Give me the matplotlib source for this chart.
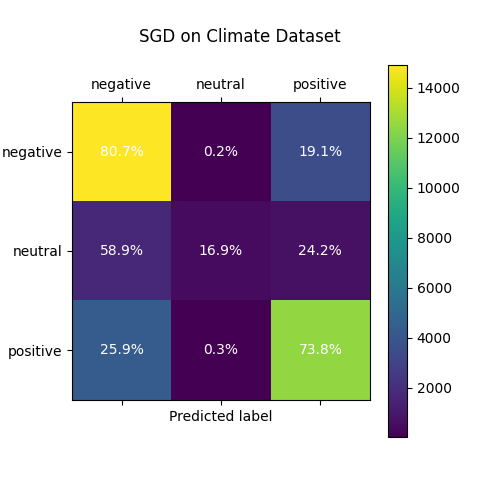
import numpy as np
import matplotlib.pyplot as plt

labels = ['negative', 'neutral', 'positive']
counts = np.array([[14900, 37, 3527],
                   [1710, 490, 702],
                   [4390, 50, 12510]])

pct = counts / counts.sum(axis=1, keepdims=True) * 100

fig = plt.figure(figsize=(4.8, 4.8), dpi=100)
ax = fig.add_axes([72/480, 80/480, 298/480, 298/480])
cax = fig.add_axes([388/480, 43/480, 19/480, 372/480])

im = ax.matshow(counts, cmap='viridis')
fig.colorbar(im, cax=cax)

ax.set_xticks(range(3))
ax.set_yticks(range(3))
ax.set_xticklabels(labels)
ax.set_yticklabels(labels)
ax.xaxis.set_ticks_position('both')
ax.set_xlabel('Predicted label')

for i in range(3):
    for j in range(3):
        ax.text(j, i, f'{pct[i, j]:.1f}%', ha='center', va='center', color='white')

fig.suptitle('SGD on Climate Dataset', y=452/480, fontsize=12)
fig.savefig('out.png')
